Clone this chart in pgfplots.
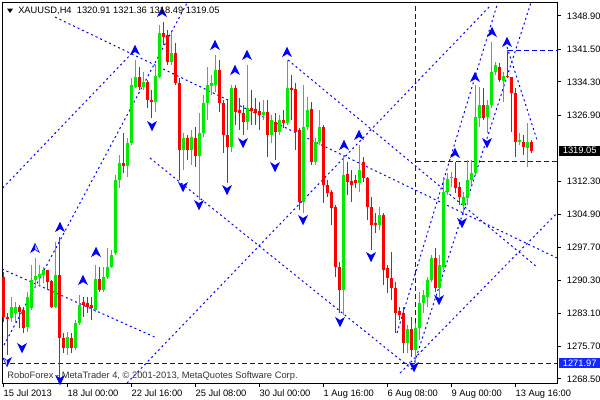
\documentclass[border=0pt]{standalone}
\usepackage{pgfplots}
\pgfplotsset{compat=1.18}
\usepackage{pgfplotstable}
\usepackage{fontspec}
\setmainfont{Liberation Sans}
\definecolor{bullc}{RGB}{0,235,0}
\definecolor{bearc}{RGB}{255,0,0}
\definecolor{lblue}{RGB}{0,0,255}
\definecolor{boxblue}{RGB}{20,40,255}
\pgfdeclareplotmark{empty}{}
\pgfdeclareplotmark{fup}{%
  \pgfpathmoveto{\pgfpoint{0pt}{3.4pt}}\pgfpathlineto{\pgfpoint{3.2pt}{-3.2pt}}\pgfpathlineto{\pgfpoint{0pt}{-1.2pt}}\pgfpathlineto{\pgfpoint{-3.2pt}{-3.2pt}}\pgfpathclose\pgfusepathqfillstroke
  \pgfpathmoveto{\pgfpoint{0pt}{3.4pt}}\pgfpathlineto{\pgfpoint{0pt}{-1.2pt}}\pgfpathlineto{\pgfpoint{-3.2pt}{-3.2pt}}\pgfpathclose\pgfsetfillcolor{lblue}\pgfusepathqfill}
\pgfdeclareplotmark{fdown}{%
  \pgfpathmoveto{\pgfpoint{0pt}{-3.4pt}}\pgfpathlineto{\pgfpoint{3.2pt}{3.2pt}}\pgfpathlineto{\pgfpoint{0pt}{1.2pt}}\pgfpathlineto{\pgfpoint{-3.2pt}{3.2pt}}\pgfpathclose\pgfusepathqfillstroke
  \pgfpathmoveto{\pgfpoint{0pt}{-3.4pt}}\pgfpathlineto{\pgfpoint{0pt}{1.2pt}}\pgfpathlineto{\pgfpoint{3.2pt}{3.2pt}}\pgfpathclose\pgfsetfillcolor{lblue}\pgfusepathqfill}

\pgfplotstableread{
x o h l c
2 1282.00 1286.66 1281.12 1284.44
3 1283.11 1285.55 1281.12 1284.44
6 1280.01 1287.76 1278.90 1286.66
7 1284.22 1293.74 1283.78 1290.42
8 1290.42 1295.29 1288.87 1291.31
9 1291.08 1293.74 1288.87 1291.75
10 1291.53 1293.30 1289.76 1292.64
13 1284.44 1298.84 1284.22 1291.53
16 1275.36 1278.90 1273.81 1277.80
18 1275.36 1281.56 1274.92 1280.90
19 1280.90 1287.10 1280.45 1284.88
23 1283.78 1293.74 1283.34 1290.64
25 1288.21 1293.30 1287.76 1291.08
26 1291.08 1297.51 1290.64 1293.30
27 1293.30 1297.07 1293.08 1295.96
28 1296.40 1313.68 1295.96 1312.57
29 1312.57 1318.11 1310.80 1316.34
31 1315.67 1321.87 1313.24 1320.77
32 1320.77 1335.16 1320.32 1333.61
33 1333.17 1339.15 1332.95 1335.38
35 1333.17 1336.49 1332.51 1334.28
38 1329.85 1338.04 1327.63 1335.61
39 1335.38 1346.90 1335.16 1345.13
42 1338.71 1345.35 1338.04 1340.70
45 1319.22 1322.98 1314.79 1321.87
47 1319.22 1323.65 1315.89 1322.09
49 1317.89 1327.41 1308.14 1322.98
50 1322.98 1331.40 1322.09 1329.63
51 1329.63 1337.60 1325.86 1333.61
52 1333.39 1335.83 1331.40 1334.06
53 1333.61 1340.26 1332.06 1336.94
57 1319.88 1333.61 1318.76 1332.95
61 1325.42 1338.04 1323.65 1328.52
65 1326.97 1330.29 1325.86 1327.63
67 1322.54 1326.97 1320.77 1325.86
69 1323.20 1326.97 1322.54 1325.86
71 1325.19 1339.15 1324.75 1332.95
75 1307.70 1333.61 1305.26 1324.31
76 1324.31 1330.96 1323.65 1328.07
78 1316.56 1321.87 1315.89 1320.99
79 1320.99 1328.07 1320.32 1324.31
85 1288.21 1318.11 1282.67 1313.68
89 1311.91 1320.32 1309.92 1314.79
94 1302.60 1306.59 1301.50 1304.82
101 1276.47 1280.45 1274.25 1279.57
103 1274.92 1280.90 1271.97 1279.79
104 1279.79 1287.76 1277.13 1285.33
105 1285.33 1288.21 1283.11 1287.10
106 1286.66 1291.08 1284.44 1290.42
107 1290.42 1295.96 1289.98 1295.29
109 1288.65 1295.96 1286.66 1293.74
110 1293.30 1313.24 1292.64 1309.92
111 1309.92 1314.12 1309.25 1312.79
112 1313.01 1314.34 1311.02 1313.24
115 1307.03 1309.92 1304.82 1308.81
116 1308.58 1317.00 1307.03 1312.57
117 1312.57 1317.00 1311.47 1314.12
118 1314.12 1333.61 1313.68 1326.53
119 1326.30 1333.17 1324.31 1329.18
121 1326.53 1330.29 1322.98 1329.18
122 1329.18 1343.14 1328.52 1336.49
123 1336.49 1338.71 1335.83 1338.04
125 1334.50 1336.49 1329.85 1335.61
129 1320.99 1322.98 1320.32 1321.43
131 1319.66 1325.19 1315.45 1320.99
}\bull

\pgfplotstableread{
x o h l c
0 1291.08 1292.19 1281.12 1282.23
1 1282.23 1283.11 1273.81 1281.78
4 1284.44 1284.88 1279.79 1283.34
5 1283.78 1284.44 1278.68 1279.79
11 1292.64 1292.64 1288.21 1289.98
12 1290.20 1290.42 1284.22 1284.44
14 1291.53 1299.94 1268.27 1277.57
15 1277.57 1278.68 1274.25 1275.36
17 1277.57 1278.68 1274.25 1275.36
20 1285.55 1286.66 1282.23 1284.88
21 1285.33 1286.66 1283.11 1284.44
22 1284.88 1286.66 1281.56 1284.22
24 1290.64 1293.30 1287.76 1288.21
30 1316.34 1322.98 1314.12 1315.67
34 1335.38 1337.60 1332.51 1333.17
36 1334.28 1334.72 1328.52 1330.29
37 1330.29 1332.51 1326.30 1329.85
40 1345.13 1347.57 1342.47 1344.24
41 1344.69 1345.80 1338.04 1338.71
43 1340.70 1342.92 1333.61 1334.06
44 1334.06 1335.16 1312.57 1319.22
46 1321.87 1322.54 1317.00 1319.22
48 1321.87 1324.31 1315.45 1317.89
54 1336.94 1339.15 1327.63 1329.63
55 1329.63 1330.29 1318.55 1322.54
56 1322.54 1330.29 1311.91 1319.88
58 1332.95 1333.61 1324.75 1327.63
59 1328.07 1330.73 1323.65 1327.41
60 1327.41 1329.18 1322.54 1325.42
62 1328.52 1332.51 1324.75 1327.85
63 1328.30 1330.73 1324.75 1327.41
64 1327.85 1329.85 1323.65 1326.97
66 1327.63 1330.29 1317.67 1322.54
68 1325.42 1327.41 1317.00 1323.20
70 1325.86 1328.07 1324.09 1325.19
72 1332.95 1335.83 1325.86 1332.51
73 1332.73 1334.06 1319.22 1323.20
74 1323.65 1324.09 1305.93 1307.70
77 1328.30 1329.85 1315.89 1316.56
80 1324.31 1324.75 1307.48 1311.47
81 1311.47 1312.57 1308.81 1309.69
82 1309.92 1310.36 1302.60 1306.37
83 1306.59 1307.03 1291.08 1293.30
84 1293.30 1294.41 1283.11 1288.21
86 1313.90 1316.56 1309.25 1312.13
87 1312.35 1314.79 1307.70 1311.47
88 1312.57 1313.68 1310.80 1311.91
90 1316.56 1317.67 1312.13 1313.01
91 1313.01 1313.24 1303.71 1306.59
92 1306.59 1308.81 1297.07 1302.60
93 1303.05 1305.26 1300.83 1302.60
95 1304.82 1305.26 1289.31 1292.64
96 1293.08 1293.74 1287.54 1290.86
97 1290.86 1296.62 1285.99 1288.65
98 1288.65 1289.98 1278.68 1283.11
99 1283.55 1284.44 1281.56 1282.67
100 1283.11 1284.44 1274.25 1276.47
102 1279.57 1282.23 1273.37 1274.92
108 1295.29 1297.51 1287.76 1288.65
113 1313.01 1316.56 1309.69 1310.80
114 1311.02 1312.13 1307.03 1308.81
120 1329.18 1332.95 1325.86 1326.30
124 1337.60 1338.49 1334.28 1334.72
126 1335.61 1341.37 1335.16 1335.38
127 1335.38 1335.38 1323.20 1331.84
128 1331.84 1332.95 1317.67 1320.99
130 1320.99 1322.54 1318.11 1319.88
132 1320.91 1321.36 1318.49 1319.05
}\bear

\begin{document}
\begin{tikzpicture}[font=\fontsize{7}{8}\selectfont]
\path[use as bounding box] (0,0) rectangle (450pt,300pt);
\begin{axis}[
  at={(1.5pt,12.75pt)}, anchor=south west,
  width=416.25pt, height=285pt, scale only axis,
  xmin=-0.325, xmax=138.425, ymin=1267.61, ymax=1351.78,
  axis line style={black, line width=0.75pt},
  xtick={0,16,32,48,64,80,96,112,128},
  xticklabels={15 Jul 2013,18 Jul 00:00,22 Jul 16:00,25 Jul 08:00,30 Jul 00:00,1 Aug 16:00,6 Aug 08:00,9 Aug 00:00,13 Aug 16:00},
  ytick={1268.50,1275.70,1283.10,1290.30,1297.70,1304.90,1312.30,1326.90,1334.30,1341.50,1348.90},
  xtick pos=lower, ytick pos=upper, yticklabel pos=right,
  tick align=outside, major tick length=3pt,
  tick style={black, line width=0.75pt},
  /pgf/number format/assume math mode=true,
  ticklabel style={font=\fontsize{7}{8}\selectfont},
  yticklabel style={anchor=west, inner sep=0pt, xshift=4.2pt,
    /pgf/number format/.cd, fixed, fixed zerofill, precision=2, 1000 sep={}},
  xticklabel style={anchor=north west, inner sep=0pt, yshift=-2.2pt},
  clip=true,
  candle/.style={only marks, mark=empty, error bars/.cd, y dir=plus, y explicit, error mark=none},
  dotl/.style={color=lblue, line width=0.75pt, dash pattern=on 1.5pt off 2.25pt},
  dashl/.style={color=lblue, line width=0.6pt, dash pattern=on 3.75pt off 2.25pt},
]
% trend lines
\addplot[dotl] coordinates {(-0.33,1292.86) (38.43,1277.57)};
\addplot[dotl] coordinates {(0.18,1276.02) (45.93,1351.78)};
\addplot[dotl] coordinates {(-0.15,1310.80) (32.43,1340.92)};
\addplot[dotl] coordinates {(12.93,1348.67) (138.43,1295.29)};
\addplot[dotl] coordinates {(71.18,1339.15) (133.43,1293.30)};
\addplot[dotl] coordinates {(36.68,1317.44) (102.43,1270.49)};
\addplot[dotl] coordinates {(30.93,1267.61) (121.93,1351.33)};
\addplot[dotl] coordinates {(99.18,1269.82) (138.43,1305.26)};
\addplot[dotl] coordinates {(98.43,1278.68) (123.43,1351.33)};
\addplot[dotl] coordinates {(102.43,1271.15) (131.88,1351.78)};
\addplot[dotl] coordinates {(125.93,1342.03) (133.43,1321.43)};
\addplot[dashl] coordinates {(-0.325,1272.05) (138.425,1272.05)};
\addplot[dashl] coordinates {(103.05,1272.05) (103.05,1351.78)};
\addplot[dashl] coordinates {(103.05,1316.78) (138.425,1316.78)};
\addplot[dashl] coordinates {(126.2,1341.37) (138.425,1341.37)};
% candles
\addplot[candle, error bar style={bullc, line width=0.75pt}]
  table[x=x, y=l, y error plus expr=\thisrow{h}-\thisrow{l}] {\bull};
\addplot[candle, error bar style={bullc, line width=2.25pt}]
  table[x=x, y expr={min(\thisrow{o},\thisrow{c})}, y error plus expr={max(abs(\thisrow{c}-\thisrow{o}),0.25)}] {\bull};
\addplot[candle, error bar style={bearc, line width=0.75pt}]
  table[x=x, y=l, y error plus expr=\thisrow{h}-\thisrow{l}] {\bear};
\addplot[candle, error bar style={bearc, line width=2.25pt}]
  table[x=x, y expr={min(\thisrow{o},\thisrow{c})}, y error plus expr={max(abs(\thisrow{c}-\thisrow{o}),0.25)}] {\bear};
% fractal arrows
\addplot[only marks, mark=fup, mark options={draw=lblue, fill=lblue!20, line width=0.4pt}] coordinates {
(7.93,1297.51) (14.18,1302.16) (23.18,1296.62) (19.93,1290.42) (32.93,1341.37) (39.68,1349.78)
(52.93,1342.47) (57.93,1336.94) (60.93,1340.26) (70.93,1340.92) (85.18,1320.32) (88.93,1322.54)
(112.93,1318.55) (117.93,1335.38) (122.18,1345.35) (125.93,1343.14)};
\addplot[only marks, mark=fdown, mark options={draw=lblue, fill=lblue!20, line width=0.4pt}] coordinates {
(0.93,1272.26) (4.68,1275.36) (14.18,1268.27) (37.18,1324.53) (44.93,1311.02) (48.93,1307.03)
(55.93,1310.36) (59.93,1320.77) (67.93,1315.45) (74.93,1303.71) (84.18,1281.12) (91.93,1295.52)
(102.68,1271.15) (108.93,1285.99) (114.68,1303.05) (120.93,1320.77)};
\end{axis}
\fill[black] (5.25pt,293.6pt) -- (9.75pt,293.6pt) -- (7.5pt,290.2pt) -- cycle;
\node[anchor=west, inner sep=0pt] at (13.5pt,291.6pt) {XAUUSD,H4\ \ 1320.91 1321.36 1318.49 1319.05};
\node[anchor=west, inner sep=0pt, text=black!80] at (5.3pt,18pt) {RoboForex - MetaTrader 4, © 2001-2013, MetaQuotes Software Corp.};
\node[fill=black, text=white, inner sep=0pt, minimum width=30.5pt, minimum height=7.6pt] at (434.8pt,187pt) {1319.05};
\node[fill=boxblue, text=white, inner sep=0pt, minimum width=30.5pt, minimum height=7.6pt] at (434.8pt,27.75pt) {1271.97};
\end{tikzpicture}
\end{document}
